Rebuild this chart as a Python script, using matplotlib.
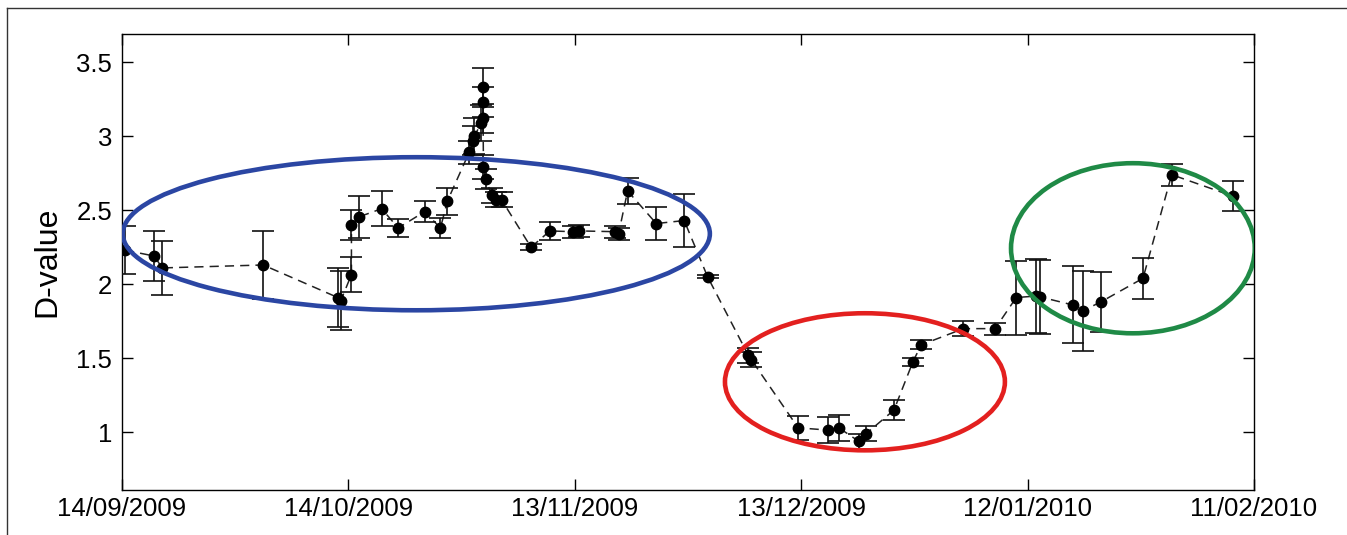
import numpy as np
import pandas as pd
import matplotlib
matplotlib.use("Agg")
import matplotlib.pyplot as plt
import matplotlib.dates as mdates
from matplotlib.patches import Ellipse
from matplotlib.lines import Line2D

plt.rcParams["font.family"] = ["Liberation Sans", "DejaVu Sans"]

# days after 14/09/2009
day_offset = [0.4, 4.3, 5.3, 18.7, 28.6, 29.0, 30.4, 30.4, 31.4, 34.4,
              36.6, 40.1, 42.2, 43.1, 46.0, 46.5, 46.7, 47.6, 47.8, 47.8,
              47.8, 47.9, 48.2, 49.0, 49.6, 50.3, 54.2, 56.7, 59.7, 60.6,
              65.3, 65.8, 67.0, 70.8, 74.5, 77.6, 83.0, 83.4, 89.6, 93.5,
              95.0, 97.6, 98.6, 102.3, 104.8, 105.9, 111.5, 115.7, 118.5, 121.1,
              121.6, 126.0, 127.3, 129.7, 135.3, 139.1, 147.2]
d_value = [2.23, 2.19, 2.11, 2.13, 1.91, 1.89, 2.065, 2.40, 2.455, 2.51,
           2.38, 2.49, 2.38, 2.56, 2.89, 2.97, 3.00, 3.09, 3.12, 3.23,
           3.33, 2.79, 2.71, 2.60, 2.57, 2.57, 2.25, 2.36, 2.355, 2.36,
           2.355, 2.34, 2.63, 2.41, 2.43, 2.05, 1.52, 1.49, 1.03, 1.015,
           1.03, 0.94, 0.99, 1.15, 1.475, 1.59, 1.70, 1.70, 1.91, 1.92,
           1.915, 1.86, 1.82, 1.88, 2.04, 2.74, 2.595]
d_error = [0.16, 0.17, 0.18, 0.23, 0.20, 0.20, 0.12, 0.10, 0.14, 0.12,
           0.06, 0.07, 0.07, 0.09, 0.08, 0.10, 0.12, 0.12, 0.10, 0.10,
           0.13, 0.08, 0.07, 0.05, 0.05, 0.05, 0.02, 0.06, 0.04, 0.04,
           0.04, 0.04, 0.09, 0.11, 0.18, 0.01, 0.05, 0.05, 0.08, 0.09,
           0.09, 0.05, 0.05, 0.07, 0.03, 0.03, 0.05, 0.04, 0.25, 0.25,
           0.25, 0.26, 0.27, 0.20, 0.14, 0.075, 0.10]

tick_dates = ["2009-09-14", "2009-10-14", "2009-11-13", "2009-12-13", "2010-01-12", "2010-02-11"]

start = pd.Timestamp("2009-09-14")
dates = [start + pd.Timedelta(days=d) for d in day_offset]

fig = plt.figure(figsize=(13.47, 5.35), dpi=100)
ax = fig.add_axes([0.0906, 0.0841, 0.8403, 0.8523])

ax.errorbar(dates, d_value, yerr=d_error, fmt="o", color="black", ms=7.5,
            ecolor="#111111", elinewidth=1.2, capsize=8, capthick=1.2, zorder=3)
ax.plot(dates, d_value, "--", color="#222222", lw=1.1, dashes=(6, 4), zorder=2)

# highlighted regions
x0 = mdates.date2num(start)
for cx, cy, w, h, col in [(39.0, 2.341, 77.8, 1.034, "#2B46A3"),
                          (98.45, 1.341, 37.1, 0.926, "#E3201F"),
                          (133.96, 2.243, 32.3, 1.149, "#1F8A46")]:
    ax.add_patch(Ellipse((x0 + cx, cy), w, h, fill=False, edgecolor=col, lw=3.3, zorder=4))

ax.set_xlim(pd.Timestamp(tick_dates[0]), pd.Timestamp(tick_dates[-1]))
ax.set_ylim(0.61, 3.69)
ax.set_xticks([pd.Timestamp(t) for t in tick_dates])
ax.xaxis.set_major_formatter(mdates.DateFormatter("%d/%m/%Y"))
ax.set_yticks([1, 1.5, 2, 2.5, 3, 3.5])
ax.set_yticklabels(["1", "1.5", "2", "2.5", "3", "3.5"])
ax.tick_params(direction="in", length=8, width=1, top=True, right=True,
               labelsize=18.5)
ax.tick_params(axis="x", pad=5)
ax.tick_params(axis="y", pad=7)
for s in ax.spines.values():
    s.set_linewidth(1.0)
ax.set_ylabel("D-value", fontsize=23, labelpad=10)

# outer frame
fig.add_artist(Line2D([7 / 1347, 7 / 1347], [0, 1 - 8 / 535], color="#333333", lw=1.0))
fig.add_artist(Line2D([7 / 1347, 1], [1 - 8 / 535, 1 - 8 / 535], color="#333333", lw=1.0))

fig.savefig("out.png", dpi=100)
